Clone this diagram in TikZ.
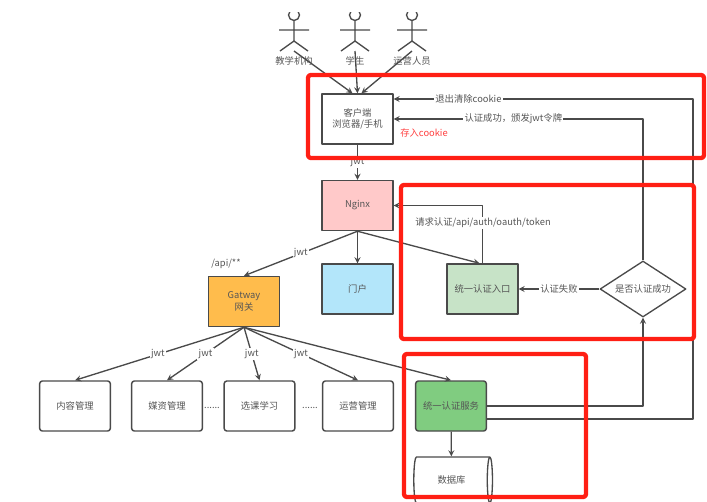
\documentclass[tikz,border=0pt]{standalone}
\usepackage{fontspec}
\setmainfont{Noto Sans CJK SC}
\usetikzlibrary{calc,shapes.geometric}
\definecolor{linegray}{HTML}{4A4A4A}
\definecolor{txtgray}{HTML}{555555}
\definecolor{marksred}{HTML}{FF1F14}
\tikzset{
	box/.style={draw=linegray,line width=1.1pt,minimum width=53pt,minimum height=37.5pt,inner sep=0pt,align=center,text=txtgray},
	rbox/.style={box,rounded corners=2pt},
	lbl/.style={fill=white,inner sep=1pt,text=txtgray},
	txt/.style={inner sep=0pt,text=txtgray},
	mark box/.style={draw=marksred,line width=3.2pt,rounded corners=2pt}
}
\begin{document}
\begin{tikzpicture}[x=0.75pt,y=-0.75pt,font=\fontsize{7}{8.6}\selectfont,line join=round,>=stealth]
	\useasboundingbox (0,0) rectangle (707,501);
	\clip (0,12) rectangle (707,501);
	% actors
	\foreach \x/\n/\t in {294/ta/教学机构,355/tb/学生,412/tc/运营人员}{
		\draw[linegray,line width=1pt] (\x,15) circle (5.5)
			(\x,20.5)--(\x,41) (\x-15,30)--(\x+15,30)
			(\x-14,51)--(\x,41)--(\x+14,51);
		\coordinate (\n) at (\x,51);
		\node[txt] (\n l) at (\x,61) {\t};
	}
	% boxes
	\node[box] (client) at (357.5,119) {客户端\\浏览器/手机};
	\node[box,fill=pink!85!white] (nginx) at (357.5,205.5) {Nginx};
	\node[box,fill=cyan!30!white] (portal) at (357.5,289) {门户};
	\node[box,fill=orange!75!yellow!70!white] (gate) at (244,301.5) {Gatway\\网关};
	\node[box,fill=green!50!black!22!white] (entry) at (482.5,289) {统一认证入口};
	\node[draw=linegray,line width=1pt,diamond,aspect=1.54,minimum width=64.5pt,minimum height=42pt,inner sep=0pt,text=txtgray] (judge) at (643,289) {是否认证成功};
	\node[rbox] (course) at (75,406) {内容管理};
	\node[rbox] (media) at (167,406) {媒资管理};
	\node[rbox] (learn) at (259.5,406) {选课学习};
	\node[rbox] (ops) at (358,406) {运营管理};
	\node[rbox,fill=green!60!black!50!white] (svc) at (451,406) {统一认证服务};
	\node[draw=linegray,line width=1pt,cylinder,aspect=0.6,minimum width=34.5pt,minimum height=59pt,inner sep=0pt,text=txtgray] (db) at (451.5,480) {数据库};
	\node[txt] (dots a) at (212,408) {......};
	\node[txt] (dots b) at (310,408) {......};
	\node[inner sep=0pt,text=txtgray] (api) at (226,264) {/api/**};
	\node[inner sep=0pt,text=red!75!white] (save) at (424,133) {存入cookie};
	% connectors
	\draw[->,linegray,line width=1pt] (ta)--($(client.north)+(-5,0)$);
	\draw[->,linegray,line width=1pt] (tb)--(client.north);
	\draw[->,linegray,line width=1pt] (tc)--($(client.north)+(4,0)$);
	\draw[->,linegray,line width=1pt] (client)--(nginx) node[lbl,midway] {jwt};
	\draw[->,linegray,line width=1pt] (nginx.south)--(gate.north) node[lbl,midway] {jwt};
	\draw[->,linegray,line width=1pt] (nginx)--(portal);
	\draw[->,linegray,line width=1pt] (nginx.south)--($(entry.north)+(-3,0)$);
	\draw[->,linegray,line width=1pt] (entry.north)--(entry.north|-nginx.east)--(nginx.east);
	\node[lbl] (req) at (483,223) {请求认证/api/auth/oauth/token};
	\draw[->,linegray,line width=1pt] (judge.west)--(entry.east) node[lbl,midway] {认证失败};
	\draw[->,linegray,line width=1pt] (svc.east)-|(judge.south);
	\draw[->,linegray,line width=1pt] (judge.north)|-(client.east) node[lbl,pos=0.76] {认证成功，颁发jwt令牌};
	\coordinate (out) at ($(svc.east)+(0,13)$);
	\coordinate (back) at ($(client.east)+(0,-20)$);
	\draw[->,linegray,line width=1pt] (out)-|(693,99)--(back) node[lbl,pos=0.75] {退出清除cookie};
	\draw[->,linegray,line width=1pt] (gate.south)--(course.north) node[lbl,pos=0.51] {jwt};
	\draw[->,linegray,line width=1pt] (gate.south)--(media.north) node[lbl,pos=0.5] {jwt};
	\draw[->,linegray,line width=1pt] (gate.south)--(learn.north) node[lbl,pos=0.5] {jwt};
	\draw[->,linegray,line width=1pt] (gate.south)--(ops.north) node[lbl,pos=0.5] {jwt};
	\draw[->,linegray,line width=1pt] (gate.south)--(svc.north);
	\draw[->,linegray,line width=1pt] (svc)--(db);
	% red marks
	\draw[mark box] (308,75) rectangle (704,158);
	\draw[mark box] (401,185) rectangle (694,339);
	\draw[mark box] (404,354) rectangle (586,497);
\end{tikzpicture}
\end{document}
